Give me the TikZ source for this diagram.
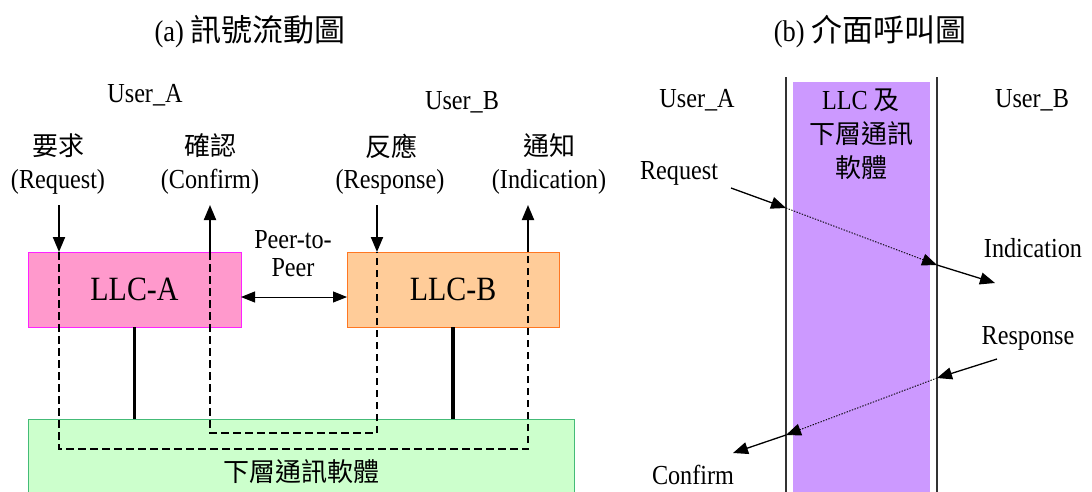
\documentclass[tikz,border=0pt]{standalone}
\usepackage{fontspec}
\setmainfont{Liberation Serif}[FakeStretch=0.88]
\newfontfamily\cjk{Noto Sans CJK TC}
\usetikzlibrary{arrows.meta}
\definecolor{pinkf}{HTML}{FF99CC}
\definecolor{pinkd}{HTML}{FF22FF}
\definecolor{orangef}{HTML}{FFCC99}
\definecolor{oranged}{HTML}{FF7722}
\definecolor{greenf}{HTML}{CCFFCC}
\definecolor{greend}{HTML}{44BB77}
\definecolor{purplef}{HTML}{CC99FF}
\newcommand\latsz{\fontsize{27.5}{32}\selectfont}
\newcommand\cjksz{\cjk\fontsize{26}{34}\selectfont}
\begin{document}
\begin{tikzpicture}[x=1pt,y=-1pt,
  txt/.style={inner sep=0pt, outer sep=0pt, font=\latsz},
  ctxt/.style={inner sep=0pt, outer sep=0pt, font=\cjksz},
  box/.style={draw, line width=1pt, inner sep=0pt, outer sep=0pt},
  bigtip/.style={-{Triangle[length=15pt,width=12pt]}},
  sig/.style={line width=2pt, bigtip},
  sigb/.style={line width=1.3pt, bigtip},
  dotb/.style={line width=0.9pt, dash pattern=on 1.4pt off 1.4pt, bigtip},
  dsh/.style={line width=2pt, dash pattern=on 7.5pt off 4.5pt},
  stem/.style={line width=3.3pt},
  rule/.style={line width=1.5pt, draw=black!80}
]
\useasboundingbox (0,0) rectangle (1092,491);

% ---------- (a) ----------
\node[txt, font=\fontsize{30}{34}\selectfont] (titleA) at (250,32) {(a) {\cjk\fontsize{31}{34}\selectfont 訊號流動圖}};
\node[txt] (userA) at (145,95) {User\_A};
\node[txt] (userB) at (462,102) {User\_B};
\node[ctxt] (c1) at (58,146) {要求};
\node[txt] (e1) at (58,182) {(Request)};
\node[ctxt] (c2) at (210,146) {確認};
\node[txt] (e2) at (210,182) {(Confirm)};
\node[ctxt] (c3) at (391,146) {反應};
\node[txt] (e3) at (390,182) {(Response)};
\node[ctxt] (c4) at (549,146) {通知};
\node[txt] (e4) at (549,182) {(Indication)};

\node[box, draw=greend, fill=greenf, minimum width=546pt, minimum height=106pt, font=\cjksz] (lower) at (301,472) {下層通訊軟體};
\node[box, draw=pinkd, fill=pinkf, minimum width=213pt, minimum height=75pt, font=\fontsize{34}{40}\selectfont] (llcA) at (134.5,289.5) {LLC-A};
\node[box, draw=oranged, fill=orangef, minimum width=212pt, minimum height=75pt, font=\fontsize{34}{40}\selectfont] (llcB) at (453,289.5) {LLC-B};
\node[txt, align=center, font=\fontsize{27.5}{28}\selectfont] (peer) at (293,254) {Peer-to-\\Peer};

\draw[stem] (llcA.south) -- (llcA.south |- lower.north);
\draw[stem] (llcB.south) -- (llcB.south |- lower.north);
\draw[line width=1pt, {Triangle[length=14pt,width=11pt]}-{Triangle[length=14pt,width=11pt]}]
  ([yshift=-7.5pt]llcA.east) -- ([yshift=-7.5pt]llcB.west);

\coordinate (reqS) at (59,205);
\coordinate (cnfS) at (210,205);
\coordinate (rspS) at (377,205);
\coordinate (indS) at (528,205);
\coordinate (outerY) at (0,449);
\coordinate (innerY) at (0,433);

\draw[sig] (reqS) -- (reqS |- llcA.north);
\draw[sig] (cnfS |- llcA.north) -- (cnfS);
\draw[sig] (rspS) -- (rspS |- llcB.north);
\draw[sig] (indS |- llcB.north) -- (indS);
\draw[dsh] (reqS |- llcA.north) -- (reqS |- outerY) -- (indS |- outerY) -- (indS |- llcB.north);
\draw[dsh] (cnfS |- llcA.north) -- (cnfS |- innerY) -- (rspS |- innerY) -- (rspS |- llcB.north);

% ---------- (b) ----------
\node[txt, font=\fontsize{30}{34}\selectfont] (titleB) at (870,32) {(b) {\cjk\fontsize{31}{34}\selectfont 介面呼叫圖}};
\node[fill=purplef, inner sep=0pt, outer sep=0pt, minimum width=137pt, minimum height=415pt, anchor=north west] (band) at (793,82) {};
\draw[rule] (786,77) -- (786,495);
\draw[rule] (937,77) -- (937,495);
\node[txt, align=center, font=\fontsize{27.5}{34}\selectfont] (bandtxt) at (861,134) {LLC {\cjk\fontsize{26}{34}\selectfont 及}\\{\cjk\fontsize{26}{34}\selectfont 下層通訊}\\{\cjk\fontsize{26}{34}\selectfont 軟體}};
\node[txt] (uA) at (697,100) {User\_A};
\node[txt] (uB) at (1032,100) {User\_B};
\node[txt] (tReq) at (679,173) {Request};
\node[txt] (tInd) at (1033,248) {Indication};
\node[txt] (tRsp) at (1028,338) {Response};
\node[txt] (tCnf) at (693,475) {Confirm};

\coordinate (q0) at (731,188);
\coordinate (q1) at (786,208);
\coordinate (q2) at (937,265);
\coordinate (q3) at (995,283);
\coordinate (p0) at (997,359);
\coordinate (p1) at (937,378);
\coordinate (p2) at (786,435);
\coordinate (p3) at (733,453);
\draw[sigb] (q0) -- (q1);
\draw[dotb] (q1) -- (q2);
\draw[sigb] (q2) -- (q3);
\draw[sigb] (p0) -- (p1);
\draw[dotb] (p1) -- (p2);
\draw[sigb] (p2) -- (p3);
\end{tikzpicture}
\end{document}
